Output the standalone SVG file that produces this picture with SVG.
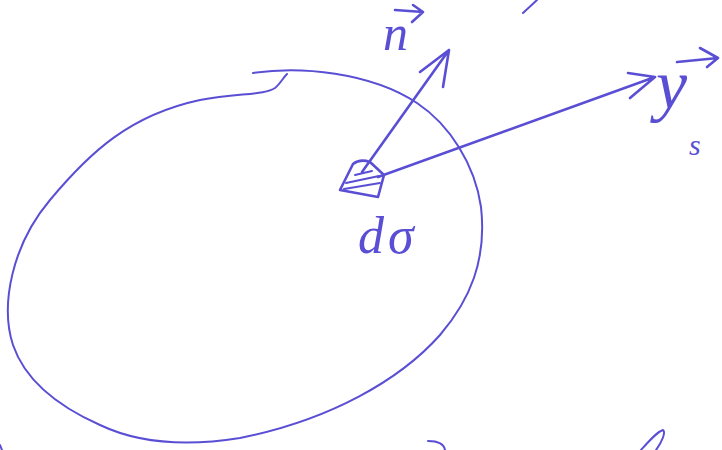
<svg xmlns="http://www.w3.org/2000/svg" width="722" height="450" viewBox="0 0 722 450">
<style>
.ink{fill:none;stroke:#5a4fd4;stroke-linecap:round;stroke-linejoin:round}
.thin{stroke-width:2}
.med{stroke-width:2.6}
.lbl{fill:#5a4fd4;font-family:"Liberation Serif","DejaVu Serif",serif;font-style:italic}
</style>
<rect width="722" height="450" fill="#ffffff"/>
<g id="surface">
<path class="ink thin" d="M253,73 C300,66 370,72 417,103 C450,125 475,165 481,207 C487,260 470,300 440,335 C400,380 330,420 240,438 C190,446 140,444 100,425 C55,405 25,380 13,345 C0,305 12,245 50,200 C90,152 130,115 200,100 C240,93 265,95 275,88 C280,84 283,78 287,74"/>
</g>
<g id="element-dsigma">
<path class="ink med" d="M353,164 C358,160 364,160 370,162 L384,175 L378,197 L340,190 Z"/>
<path class="ink thin" d="M355,175 L372,171 M346,183 L379,176 M344,189 L380,183"/>
</g>
<g id="connectors">
<path class="ink med" d="M362,172 L449,50 M420,72 L449,50 L443,87"/>
<path class="ink med" d="M378,177 L655,77 M628,73 L655,77 L630,98"/>
</g>
<g id="label-n">
<path class="ink med" d="M395,10 L423,12 M413,5 L423,12 L412,22"/>
<text class="lbl" x="383" y="50" font-size="50">n</text>
</g>
<g id="label-ys">
<path class="ink med" d="M677,62 L718,58 M700,48 L718,58 L707,67"/>
<text class="lbl" x="656" y="108" font-size="70">y</text>
<text class="lbl" x="689" y="155" font-size="30">s</text>
</g>
<g id="label-dsigma">
<text class="lbl" x="358" y="253" font-size="52" letter-spacing="4">dσ</text>
</g>
<g id="edge-marks">
<path class="ink thin" d="M523,13 L537,0"/>
<path class="ink thin" d="M428,441 C438,441 444,444 445,450"/>
<path class="ink thin" d="M641,450 C650,440 657,432 663,430 C666,432 662,442 656,450"/>
<path class="ink thin" d="M0,445 L2,450"/>
</g>
</svg>
